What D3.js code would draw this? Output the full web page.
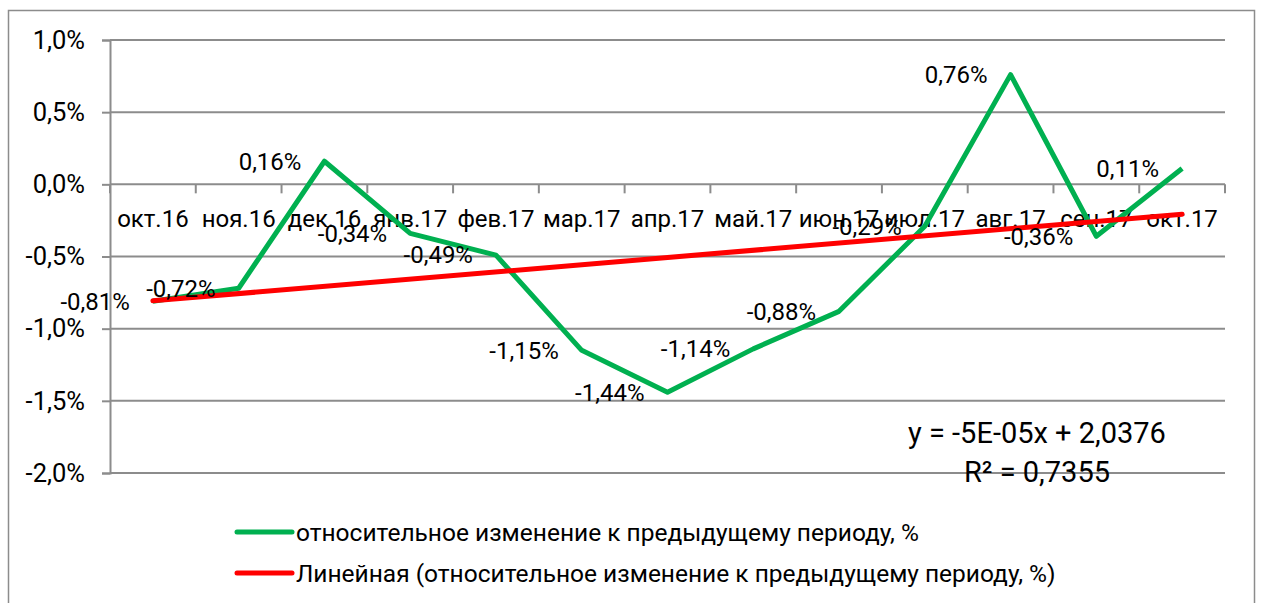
<!DOCTYPE html>
<html lang="ru">
<head>
<meta charset="UTF-8">
<title>Относительное изменение</title>
<script src="https://d3js.org/d3.v7.min.js"></script>
<style>
  body { margin: 0; background: #fff; }
  text { font-family: Roboto, "Noto Sans", sans-serif; fill: #000; }
</style>
</head>
<body>
<div id="chart"></div>
<script>
// data
const categories = ["окт.16", "ноя.16", "дек.16", "янв.17", "фев.17", "мар.17", "апр.17",
                    "май.17", "июн.17", "июл.17", "авг.17", "сен.17", "окт.17"];
const values = [-0.81, -0.72, 0.16, -0.34, -0.49, -1.15, -1.44, -1.14, -0.88, -0.29, 0.76, -0.36, 0.11];
const yTicks = [-2.0, -1.5, -1.0, -0.5, 0.0, 0.5, 1.0];
const seriesName = "относительное изменение к предыдущему периоду, %";
const trendName = "Линейная (относительное изменение к предыдущему периоду, %)";
const equationLines = ["y = -5E-05x + 2,0376", "R² = 0,7355"];

const W = 1261, H = 603;
const green = "#00b050", red = "#ff0000", grid = "#8c8c8c";

const svg = d3.select("#chart").append("svg")
    .attr("width", W).attr("height", H);

// outer chart border
svg.append("rect")
    .attr("x", 8.5).attr("y", 10.5)
    .attr("width", 1246).attr("height", 620)
    .attr("fill", "none").attr("stroke", grid).attr("stroke-width", 1.5);

const x = d3.scaleBand().domain(categories).range([110, 1225]).padding(0);
const y = d3.scaleLinear().domain([-2, 1]).range([473, 40]);
const cx = d => x(d) + x.bandwidth() / 2;

// excel style: comma decimal, plain hyphen
const pct = (v, p) => d3.format("." + p + "%")(v / 100).replace(".", ",").replace("\u2212", "-");

// horizontal gridlines
svg.append("g").selectAll("line")
    .data(yTicks).join("line")
    .attr("x1", 110).attr("x2", 1225)
    .attr("y1", d => y(d)).attr("y2", d => y(d))
    .attr("stroke", grid).attr("stroke-width", 2);

// y axis
const yAxis = svg.append("g")
    .attr("transform", "translate(110,0)")
    .call(d3.axisLeft(y).tickValues(yTicks).tickFormat(d => pct(d, 1)).tickSize(8).tickPadding(17));
yAxis.select(".domain").attr("stroke", grid).attr("stroke-width", 2);
yAxis.selectAll(".tick line").attr("stroke", grid).attr("stroke-width", 2);
yAxis.selectAll(".tick text").style("font-size", "25.5px").attr("fill", "#000");

// category axis crossing at zero
const xAxis = svg.append("g")
    .attr("transform", "translate(0," + y(0) + ")");
const edges = categories.map(c => x(c)).concat([x(categories[categories.length - 1]) + x.bandwidth()]);
xAxis.selectAll("line.tk")
    .data(edges).join("line")
    .attr("class", "tk")
    .attr("x1", d => d).attr("x2", d => d)
    .attr("y1", 0).attr("y2", 9)
    .attr("stroke", grid).attr("stroke-width", 2);
xAxis.selectAll("text")
    .data(categories).join("text")
    .attr("x", d => cx(d)).attr("y", 43)
    .attr("text-anchor", "middle")
    .style("font-size", "24px")
    .text(d => d);

// series line
const line = d3.line().x((d, i) => cx(categories[i])).y(d => y(d));
svg.append("path")
    .datum(values)
    .attr("d", line)
    .attr("fill", "none").attr("stroke", green)
    .attr("stroke-width", 5).attr("stroke-linejoin", "round");

// linear trend (least squares over month index)
const n = values.length;
const mx = d3.mean(values, (d, i) => i), my = d3.mean(values);
const slope = d3.sum(values, (d, i) => (i - mx) * (d - my)) / d3.sum(values, (d, i) => (i - mx) * (i - mx));
const trend = values.map((d, i) => my + slope * (i - mx));
svg.append("path")
    .datum([trend[0], trend[n - 1]])
    .attr("d", d3.line().x((d, i) => cx(categories[i * (n - 1)])).y(d => y(d)))
    .attr("fill", "none").attr("stroke", red)
    .attr("stroke-width", 5).attr("stroke-linecap", "round");

// data labels, left of points
svg.append("g").selectAll("text")
    .data(values).join("text")
    .attr("x", (d, i) => cx(categories[i]) - 23)
    .attr("y", d => y(d))
    .attr("dy", "0.35em")
    .attr("text-anchor", "end")
    .style("font-size", "24px")
    .text(d => pct(d, 2));

// trendline equation
svg.append("g").selectAll("text")
    .data(equationLines).join("text")
    .attr("x", 1037).attr("y", (d, i) => 443 + i * 39)
    .attr("text-anchor", "middle")
    .style("font-size", "29px")
    .text(d => d);

// legend
const legend = svg.append("g").selectAll("g")
    .data([{name: seriesName, color: green}, {name: trendName, color: red}])
    .join("g")
    .attr("transform", (d, i) => "translate(237," + (532 + i * 41) + ")");
legend.append("line")
    .attr("x1", 0).attr("x2", 55)
    .attr("stroke", d => d.color).attr("stroke-width", 5).attr("stroke-linecap", "round");
legend.append("text")
    .attr("x", 59).attr("dy", "0.35em")
    .style("font-size", "24.5px")
    .text(d => d.name);
</script>
</body>
</html>
